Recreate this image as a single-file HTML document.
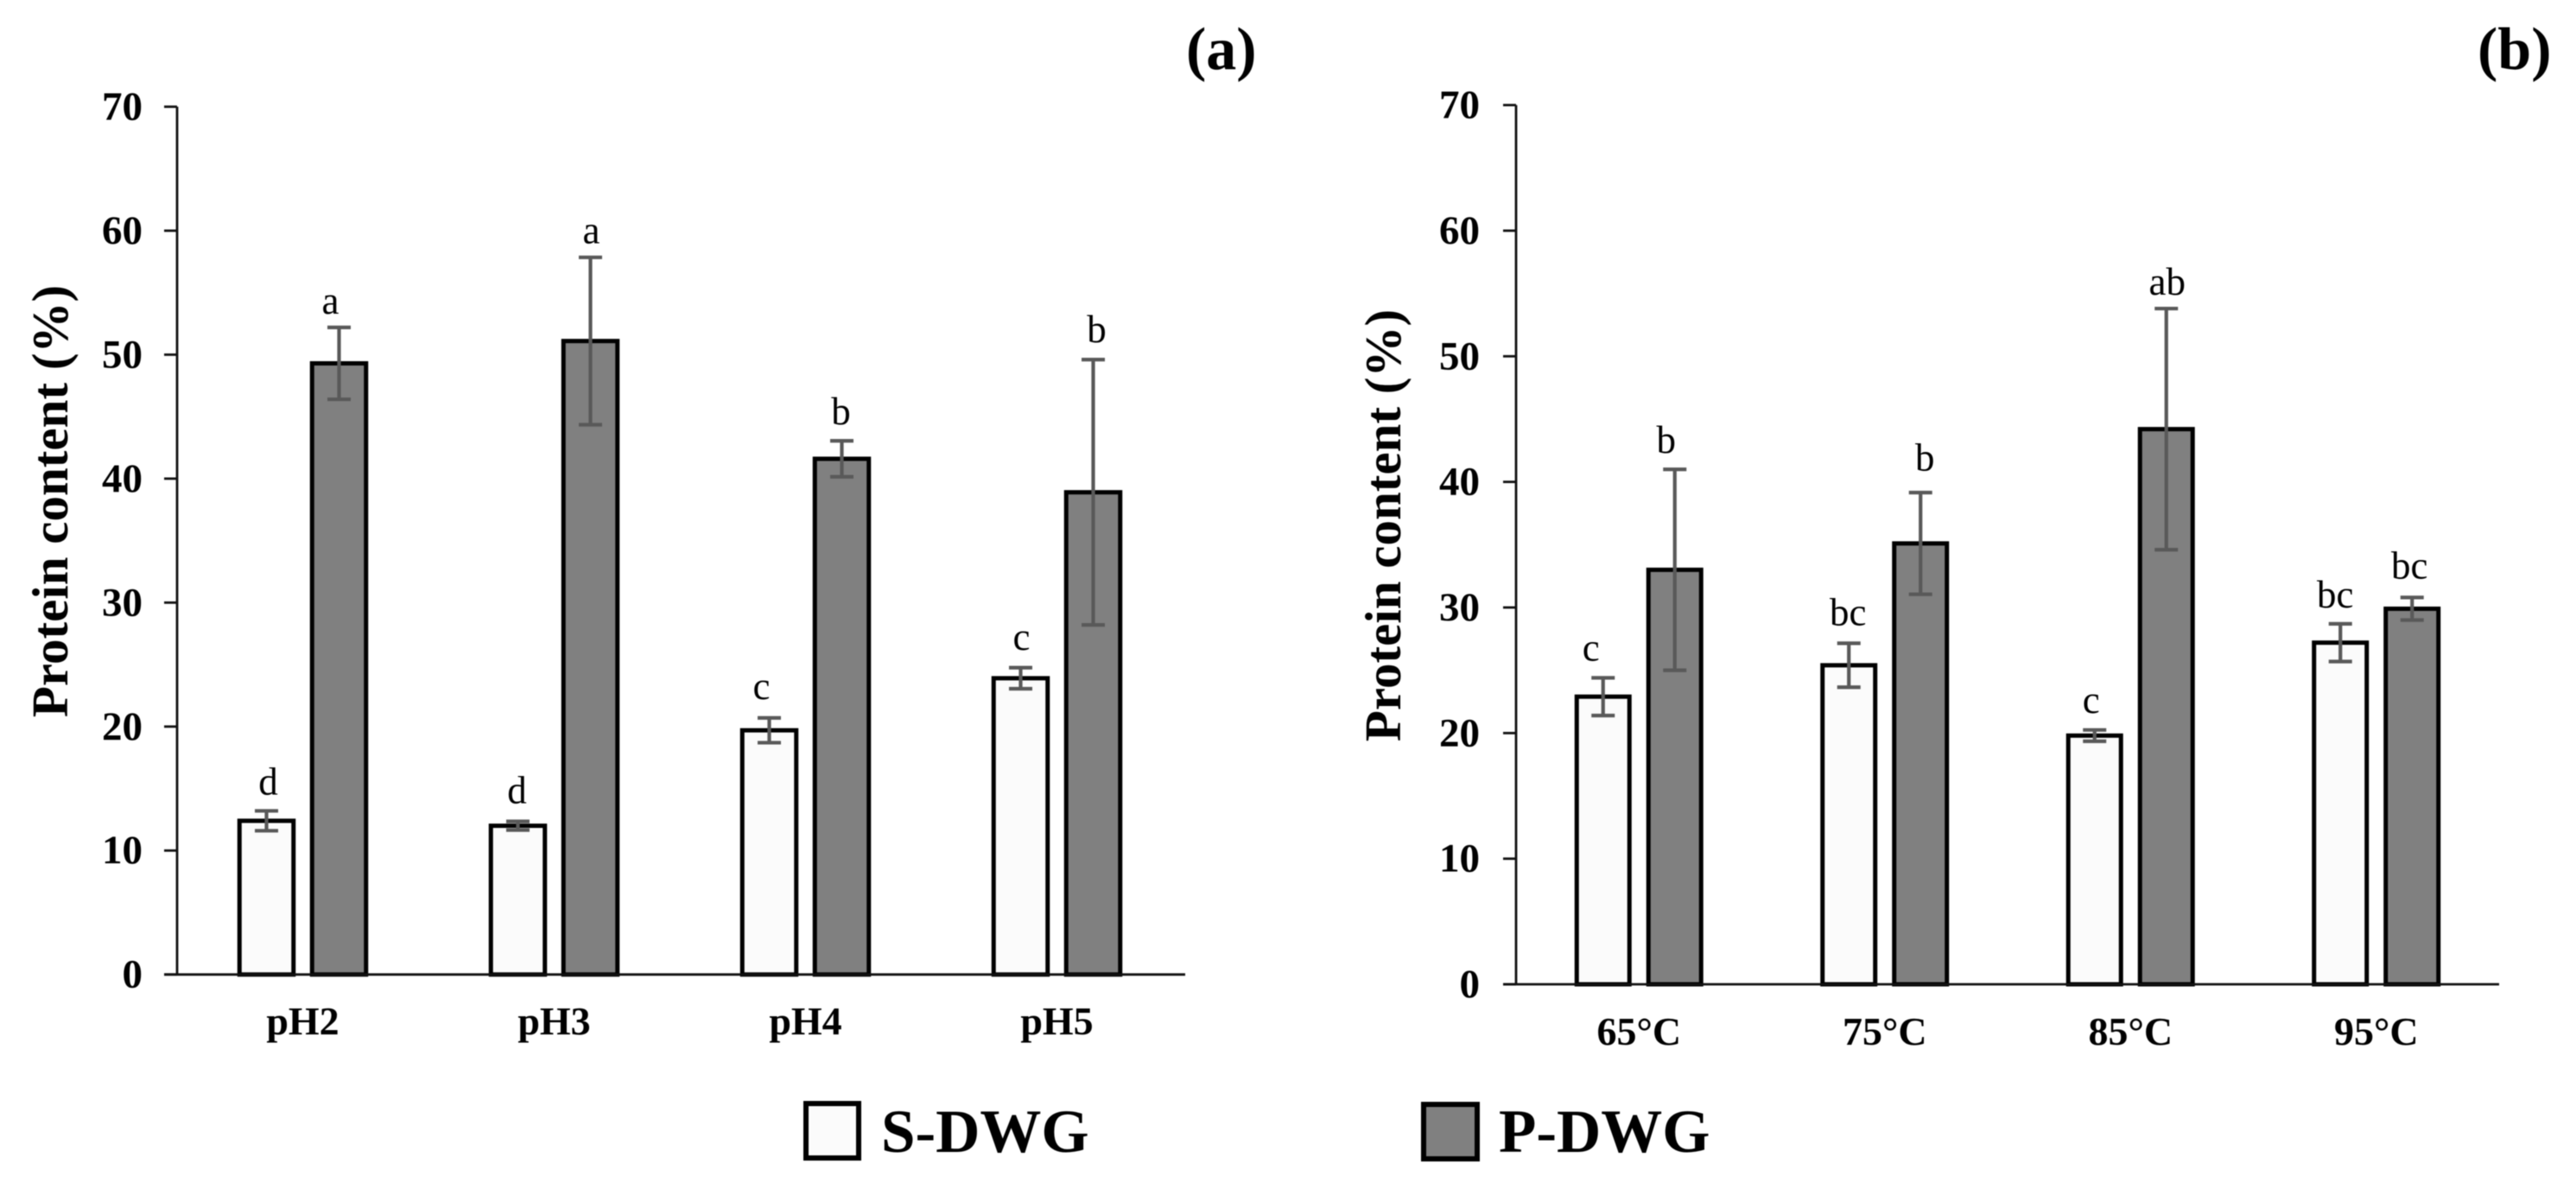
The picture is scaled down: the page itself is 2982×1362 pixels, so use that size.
<!DOCTYPE html>
<html lang="en">
<head>
<meta charset="utf-8">
<title>Protein content of S-DWG and P-DWG</title>
<style>
html,body{margin:0;padding:0;background:#fff;width:2982px;height:1362px;overflow:hidden}
svg{display:block;filter:blur(.5px)}
text{font-family:"Liberation Serif","Times New Roman",serif;fill:#000}
.b{font-weight:700}
</style>
</head>
<body>
<svg id="figure" xmlns="http://www.w3.org/2000/svg" width="2982" height="1362" viewBox="0 0 2982 1362">
  <rect x="0" y="0" width="2982" height="1362" fill="#fff"/>
  <text class="b" x="1373" y="80" font-size="70">(a)</text>
  <text class="b" x="2868" y="80" font-size="70">(b)</text>
  <g>
    <rect x="933" y="1277" width="61" height="63" fill="#fbfbfb" stroke="#000" stroke-width="6"/>
    <text class="b" x="1020" y="1333" font-size="71">S-DWG</text>
    <rect x="1648" y="1278" width="62" height="63" fill="#808080" stroke="#000" stroke-width="6"/>
    <text class="b" x="1735" y="1333" font-size="71">P-DWG</text>
  </g>
</svg>
<script>
// Panel (a) data
const phCategories = ['pH2', 'pH3', 'pH4', 'pH5'];
const phSoluble = [12.4, 12.0, 19.7, 23.9];
const phPrecipitate = [49.3, 51.1, 41.6, 38.9];
const phSolubleError = [0.8, 0.35, 1.0, 0.85];
const phPrecipitateError = [2.9, 6.75, 1.45, 10.7];
const phSolubleLetters = ['d', 'd', 'c', 'c'];
const phPrecipitateLetters = ['a', 'a', 'b', 'b'];
const phSolubleLetterLevel = [14.5, 13.8, 22.2, 26.2];
const phPrecipitateLetterLevel = [53.3, 59.0, 44.4, 51.0];

// Panel (b) data
const tempCategories = ['65°C', '75°C', '85°C', '95°C'];
const tempSoluble = [22.9, 25.4, 19.8, 27.2];
const tempPrecipitate = [33.0, 35.1, 44.2, 29.9];
const tempSolubleError = [1.5, 1.75, 0.45, 1.5];
const tempPrecipitateError = [8.0, 4.05, 9.6, 0.9];
const tempSolubleLetters = ['c', 'bc', 'c', 'bc'];
const tempPrecipitateLetters = ['b', 'b', 'ab', 'bc'];
const tempSolubleLetterLevel = [25.76, 28.6, 21.6, 30.0];
const tempPrecipitateLetterLevel = [42.3, 40.9, 54.9, 32.3];

// Shared axis
const yTicks = [0, 10, 20, 30, 40, 50, 60, 70];
const yMax = 70;

const NS = 'http://www.w3.org/2000/svg';
const svg = document.getElementById('figure');

function make(parent, tag, attrs, content) {
  const node = document.createElementNS(NS, tag);
  for (const k in attrs) node.setAttribute(k, attrs[k]);
  if (content !== undefined) node.textContent = content;
  parent.appendChild(node);
  return node;
}

function drawPanel(p) {
  const y = v => p.y0 - (v / yMax) * (p.y0 - p.yTop);
  const band = (p.xRight - p.xAxis) / p.categories.length;
  const cx = i => p.xAxis + band * (i + 0.5);

  const group = make(svg, 'g', {});
  
  

  // y axis + ticks
  const yAxis = make(group, 'line', {x1: p.xAxis, x2: p.xAxis, y1: p.yTop, y2: p.y0, stroke: '#111', 'stroke-width': 2.8});
  
  

  yTicks.forEach(t => {
    const tick = make(group, 'line', {x1: p.xAxis - 15, x2: p.xAxis, y1: y(t), y2: y(t), stroke: '#111', 'stroke-width': 2.8});
    
    
    const label = make(group, 'text', {x: p.tickLabelRight, y: y(t) + 15, 'font-size': 47, 'text-anchor': 'end', class: 'b'}, String(t));
    
    
  });

  // y axis title
  const title = make(group, 'text', {
    transform: 'translate(' + p.titleX + ',' + p.titleY + ') rotate(-90)',
    'font-size': 59, 'text-anchor': 'middle', class: 'b'
  }, 'Protein content (%)');
  
  

  // bars, error bars, letters
  const series = [
    {key: 's-dwg', values: p.soluble, errors: p.solubleError, letters: p.solubleLetters, levels: p.solubleLevels, nudge: p.solubleNudge, fill: '#fbfbfb', offset: -p.barStep},
    {key: 'p-dwg', values: p.precipitate, errors: p.precipitateError, letters: p.precipitateLetters, levels: p.precipitateLevels, nudge: p.precipitateNudge, fill: '#808080', offset: p.barStep}
  ];

  series.forEach(s => {
    s.values.forEach((v, i) => {
      const center = cx(i) + s.offset;
      const bar = make(group, 'rect', {
        x: center - p.barWidth / 2, y: y(v), width: p.barWidth, height: p.y0 - y(v),
        fill: s.fill, stroke: '#000', 'stroke-width': 5
      });
      
      
    });
  });

  series.forEach(s => {
    s.values.forEach((v, i) => {
      const center = cx(i) + s.offset;
      const top = y(v + s.errors[i]);
      const bottom = y(v - s.errors[i]);
      const err = make(group, 'path', {
        d: 'M' + (center - 13.5) + ' ' + top + 'H' + (center + 13.5) +
           'M' + center + ' ' + top + 'V' + bottom +
           'M' + (center - 13.5) + ' ' + bottom + 'H' + (center + 13.5),
        fill: 'none', stroke: '#595959', 'stroke-width': 4.2
      });
      
      

      const letter = make(group, 'text', {
        x: center + s.nudge[i], y: y(s.levels[i]), 'font-size': 45, 'text-anchor': 'middle'
      }, s.letters[i]);
      
      
    });
  });

  // x axis drawn last along the base
  const xAxis = make(group, 'line', {x1: p.xAxis - 15, x2: p.xRight + p.axisOverrun, y1: p.y0, y2: p.y0, stroke: '#111', 'stroke-width': 2.8});
  
  

  p.categories.forEach((c, i) => {
    const label = make(group, 'text', {x: cx(i), y: p.catBaseline, 'font-size': 46, 'text-anchor': 'middle', class: 'b'}, c);
    
    
  });
}

drawPanel({
  name: 'panel-a',
  categories: phCategories,
  soluble: phSoluble, precipitate: phPrecipitate,
  solubleError: phSolubleError, precipitateError: phPrecipitateError,
  solubleLetters: phSolubleLetters, precipitateLetters: phPrecipitateLetters,
  solubleLevels: phSolubleLetterLevel, precipitateLevels: phPrecipitateLetterLevel,
  solubleNudge: [2, -1, -9, 1], precipitateNudge: [-10, 1, -1, 4],
  xAxis: 205, xRight: 1369, axisOverrun: 3, yTop: 123.5, y0: 1127.7,
  barWidth: 62.5, barStep: 42, tickLabelRight: 165,
  titleX: 78, titleY: 580, catBaseline: 1197
});

drawPanel({
  name: 'panel-b',
  categories: tempCategories,
  soluble: tempSoluble, precipitate: tempPrecipitate,
  solubleError: tempSolubleError, precipitateError: tempPrecipitateError,
  solubleLetters: tempSolubleLetters, precipitateLetters: tempPrecipitateLetters,
  solubleLevels: tempSolubleLetterLevel, precipitateLevels: tempPrecipitateLetterLevel,
  solubleNudge: [-14, -1, -4, -6], precipitateNudge: [-10, 5, 1, -3],
  xAxis: 1755, xRight: 2893, axisOverrun: 0, yTop: 121.6, y0: 1139,
  barWidth: 61, barStep: 41.5, tickLabelRight: 1713,
  titleX: 1621, titleY: 608, catBaseline: 1209
});
</script>
</body>
</html>
